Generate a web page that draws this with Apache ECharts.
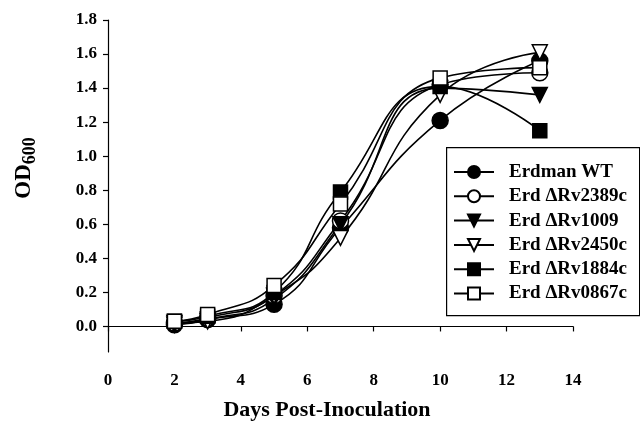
<!DOCTYPE html>
<html>
<head>
<meta charset="utf-8">
<script src="https://cdn.jsdelivr.net/npm/echarts@6/dist/echarts.min.js"></script>
<style>html,body{margin:0;padding:0;background:#fff}#c{width:640px;height:428px}</style>
</head>
<body>
<div id="c"></div>
<script>
const days = [2, 3, 5, 7, 10, 13];
const seriesNames = ['Erdman WT', 'Erd ΔRv2389c', 'Erd ΔRv1009', 'Erd ΔRv2450c', 'Erd ΔRv1884c', 'Erd ΔRv0867c'];
const erdmanWT = [0.01, 0.04, 0.13, 0.58, 1.21, 1.56];
const rv2389c  = [0.02, 0.05, 0.18, 0.62, 1.42, 1.49];
const rv1009   = [0.01, 0.04, 0.16, 0.60, 1.40, 1.36];
const rv2450c  = [0.02, 0.03, 0.18, 0.52, 1.36, 1.61];
const rv1884c  = [0.03, 0.06, 0.20, 0.79, 1.41, 1.15];
const rv0867c  = [0.03, 0.07, 0.24, 0.72, 1.46, 1.52];
const xTicks = [0, 2, 4, 6, 8, 10, 12, 14];
const yTicks = [0, 0.2, 0.4, 0.6, 0.8, 1.0, 1.2, 1.4, 1.6, 1.8];

const FONT = 'Liberation Serif';
const allValues = [erdmanWT, rv2389c, rv1009, rv2450c, rv1884c, rv0867c];
const styles = [
  {symbol: 'circle', size: 16, fill: '#000', rot: 0},
  {symbol: 'circle', size: 16, fill: '#fff', rot: 0},
  {symbol: 'triangle', size: 15, fill: '#000', rot: 180},
  {symbol: 'triangle', size: 15, fill: '#fff', rot: 180},
  {symbol: 'rect', size: 14, fill: '#000', rot: 0},
  {symbol: 'rect', size: 14, fill: '#fff', rot: 0}
];
const series = allValues.map((vals, i) => ({
  name: seriesNames[i],
  type: 'line',
  smooth: 0.5,
  data: days.map((d, j) => [d, vals[j]]),
  symbol: styles[i].symbol,
  symbolSize: styles[i].size,
  symbolRotate: styles[i].rot,
  lineStyle: {color: '#000', width: 1.6},
  itemStyle: {color: styles[i].fill, borderColor: '#000', borderWidth: 1.5},
  emphasis: {disabled: true},
  animation: false
}));

const chart = echarts.init(document.getElementById('c'), null, {renderer: 'canvas'});
chart.setOption({
  animation: false,
  backgroundColor: '#fff',
  grid: {left: 108, right: 67, top: 20, bottom: 76, containLabel: false},
  xAxis: {
    type: 'value', min: 0, max: 14, interval: 2,
    axisLine: {show: true, lineStyle: {color: '#000', width: 1.2}},
    axisTick: {show: true, inside: false, length: 5, lineStyle: {color: '#000', width: 1.2}},
    axisLabel: {color: '#000', fontFamily: FONT, fontWeight: 'bold', fontSize: 17, margin: 20,
      customValues: xTicks},
    splitLine: {show: false}
  },
  yAxis: {
    type: 'value', min: -0.15, max: 1.8,
    axisLine: {show: true, onZero: false, lineStyle: {color: '#000', width: 1.2}},
    axisTick: {show: true, inside: false, length: 5, lineStyle: {color: '#000', width: 1.2},
      customValues: yTicks},
    axisLabel: {color: '#000', fontFamily: FONT, fontWeight: 'bold', fontSize: 17, margin: 11,
      customValues: yTicks, formatter: v => v.toFixed(1)},
    splitLine: {show: false}
  },
  legend: {
    left: 453, top: 162,
    orient: 'vertical',
    itemWidth: 40, itemHeight: 15, itemGap: 4.3,
    padding: 0,
    data: seriesNames,
    textStyle: {color: '#000', fontFamily: FONT, fontWeight: 'bold', fontSize: 19, lineHeight: 20, padding: [0, 0, 0, 10]},
    selectedMode: false
  },
  graphic: [
    {type: 'rect', left: 446, top: 147, shape: {width: 193, height: 168},
      style: {fill: '#fff', stroke: '#000', lineWidth: 1.2}, z: 0, silent: true},
    {type: 'text', x: 24, y: 168, rotation: Math.PI / 2,
      style: {text: '{a|OD}{b|600}', align: 'center', verticalAlign: 'middle',
        rich: {a: {fontFamily: FONT, fontWeight: 'bold', fontSize: 23, fill: '#000'},
               b: {fontFamily: FONT, fontWeight: 'bold', fontSize: 18, fill: '#000', padding: [13, 0, 0, 0]}}}},
    {type: 'text', x: 327, y: 410,
      style: {text: 'Days Post-Inoculation', align: 'center', verticalAlign: 'middle',
        fontFamily: FONT, fontWeight: 'bold', fontSize: 22, fill: '#000'}}
  ],
  series: series
});
</script>
</body>
</html>
